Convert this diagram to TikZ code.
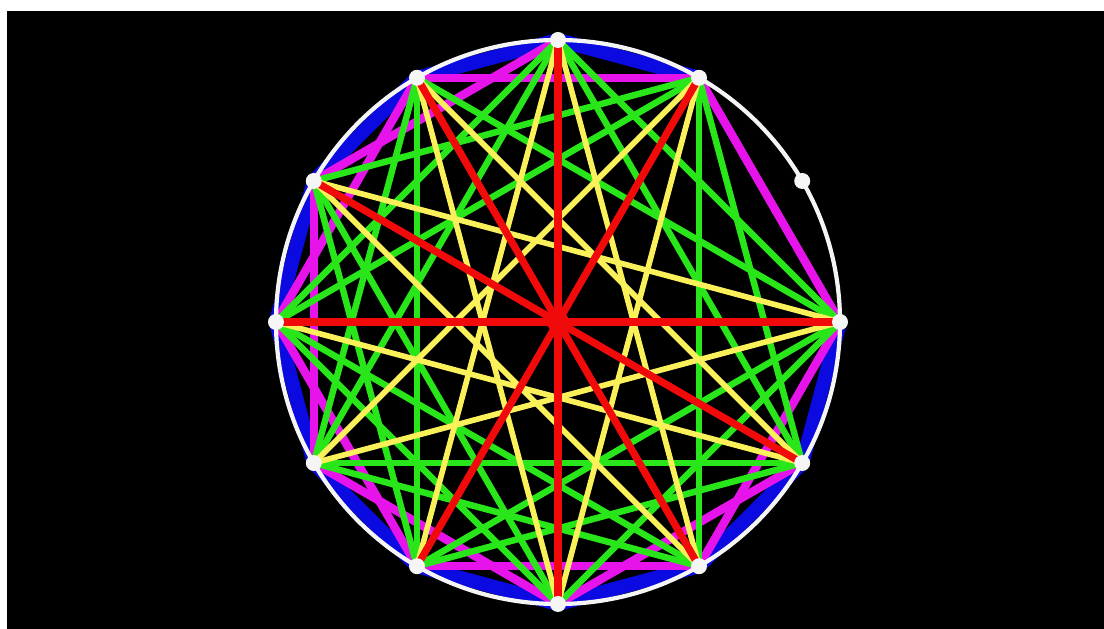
\documentclass[tikz,border=0pt]{standalone}
\usepackage{tikz}
\usepackage{xcolor}

\definecolor{cblue}{RGB}{10,10,225}
\definecolor{cmag}{RGB}{230,20,235}
\definecolor{cgreen}{RGB}{40,230,25}
\definecolor{cyel}{RGB}{250,240,90}
\definecolor{cred}{RGB}{240,10,10}

\begin{document}
\begin{tikzpicture}[x=0.025cm, y=0.025cm]
  \tikzset{
    dot/.style={circle, fill=white!92!gray, inner sep=0pt, minimum size=0.4cm},
    hub/.style={circle, fill=cred, inner sep=0pt, minimum size=0.55cm}
  }
  % frame
  \fill[white] (-558,-307) rectangle (546,322);
  \fill[black] (-551,-307) rectangle (546,311);
  \useasboundingbox (-558,-307) rectangle (546,322);

  \coordinate (c) at (0,0);
  \foreach \i in {0,...,11} {
    \coordinate (p\i) at ({30*\i}:282);
  }

  % chords, by interval
  \foreach \k/\col/\w in {1/cblue/10pt, 2/cmag/6pt, 3/cgreen/4.6pt, 4/cgreen/4.6pt, 5/cyel/4pt, 6/cred/5pt} {
    \foreach \i in {0,2,3,4,5,6,7,8,9,10,11} {
      \pgfmathtruncatemacro{\j}{mod(\i+\k,12)}
      \ifnum\j=1\relax\else
        \draw[\col, line width=\w] (p\i) -- (p\j);
      \fi
    }
  }

  \draw[white!92!gray, line width=3pt] (c) circle (282);
  \node[hub] (h) at (c) {};
  \foreach \i in {0,...,11} {
    \node[dot] (d\i) at (p\i) {};
  }
\end{tikzpicture}
\end{document}
